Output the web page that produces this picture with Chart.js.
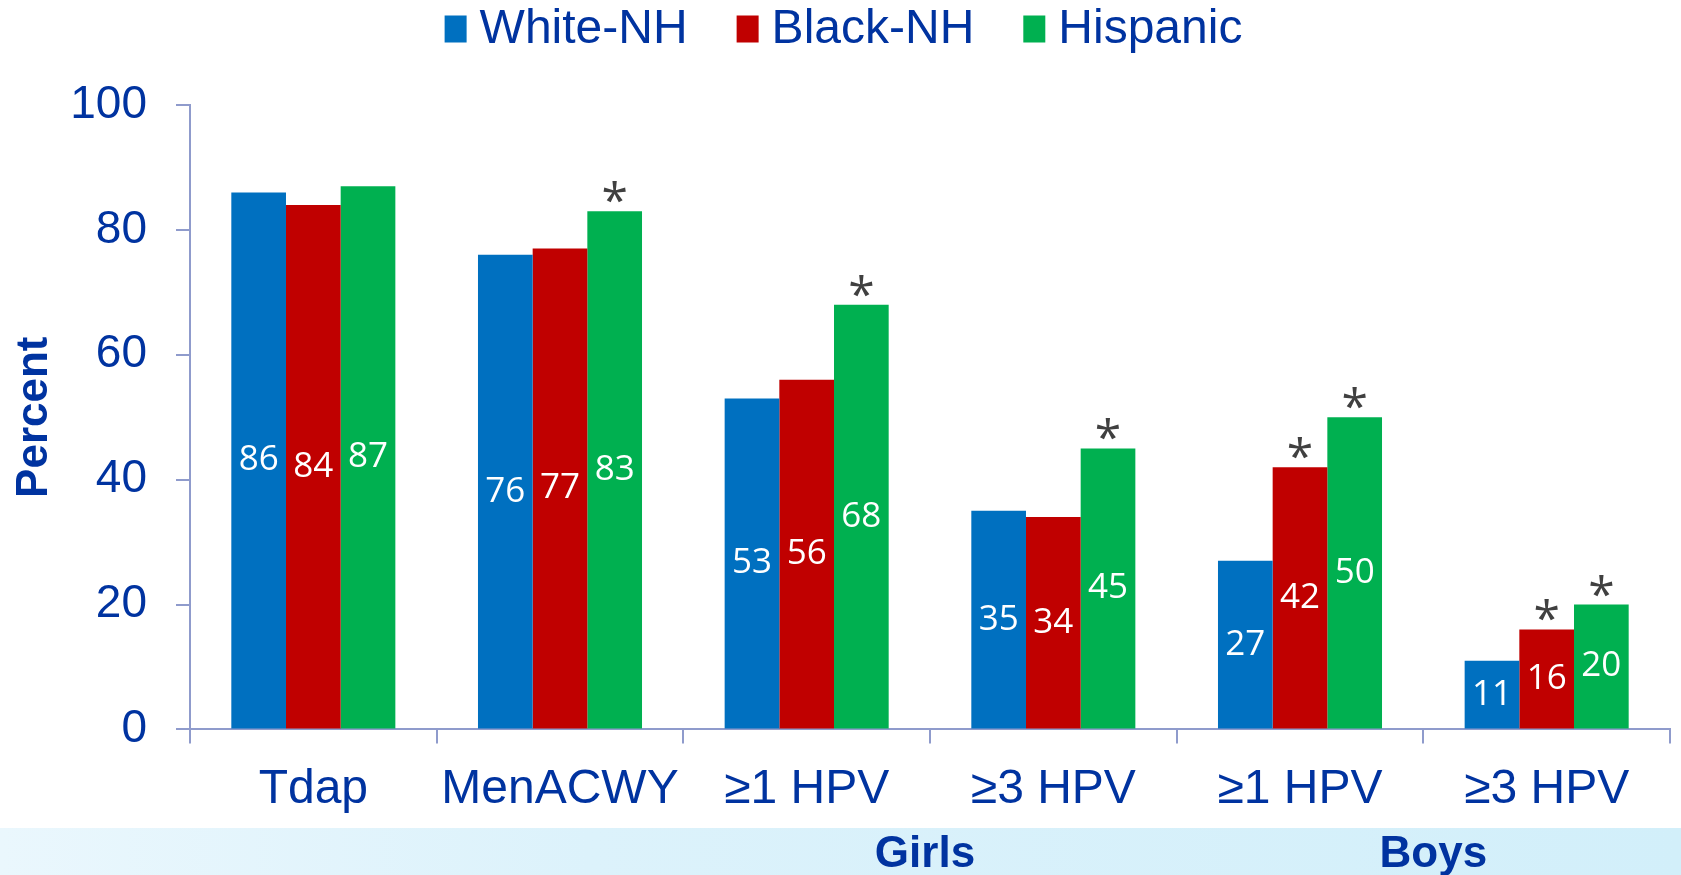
<!DOCTYPE html>
<html>
<head>
<meta charset="utf-8">
<script src="https://cdn.jsdelivr.net/npm/chart.js@4"></script>
<style>
    html, body { margin: 0; padding: 0; background: #fff; }
    #wrap { width: 1681px; height: 875px; position: relative; }
</style>
</head>
<body>
<div id="wrap"><canvas id="vaxChart"></canvas></div>
<script>
// ====== Data ======
const CATEGORIES = ["Tdap", "MenACWY", "\u22651 HPV", "\u22653 HPV", "\u22651 HPV", "\u22653 HPV"];
const WHITE_NH = [86, 76, 53, 35, 27, 11];
const BLACK_NH = [84, 77, 56, 34, 42, 16];
const HISPANIC = [87, 83, 68, 45, 50, 20];
// significance markers (asterisk above bar)
const WHITE_SIG = [0, 0, 0, 0, 0, 0];
const BLACK_SIG = [0, 0, 0, 0, 1, 1];
const HISP_SIG = [0, 1, 1, 1, 1, 1];
const Y_TICKS = [0, 20, 40, 60, 80, 100];
// group label, centered on category index
const GROUP_LABELS = ["Girls", "Boys"];
const GROUP_CENTERS = [2.5, 4.5];

const NAVY = '#0033A0';
const AXIS_COLOR = '#8F9BCC';
const FONT = '"Liberation Sans", Arial, sans-serif';
const LABEL_FONT = '"Open Sans", "Noto Sans", sans-serif';

// ---- custom legend (tighter box/text spacing than Chart.js) ----
const legendPlugin = {
    id: 'topLegend',
    afterDraw(chart) {
        const ctx = chart.ctx;
        const boxW = 22, boxH = 27, gapText = 13, gapItem = 49, cy = 29;
        ctx.save();
        ctx.font = '48px ' + FONT;
        const items = chart.data.datasets.map(ds => ({text: ds.label, color: ds.backgroundColor, w: ctx.measureText(ds.label).width}));
        let total = items.reduce((s, it) => s + boxW + gapText + it.w, 0) + gapItem * (items.length - 1);
        let x = chart.width / 2 - total / 2 + 3;
        ctx.textBaseline = 'middle';
        items.forEach(it => {
            ctx.fillStyle = it.color;
            ctx.fillRect(x, cy - boxH / 2, boxW, boxH);
            x += boxW + gapText;
            ctx.fillStyle = NAVY;
            ctx.fillText(it.text, x, cy + 1);
            x += it.w + gapItem;
        });
        ctx.restore();
    }
};

// ---- bottom band + group labels ----
const bandPlugin = {
    id: 'band',
    beforeDraw(chart) {
        const ctx = chart.ctx;
        const top = chart.height - 47;
        const g = ctx.createLinearGradient(0, 0, chart.width, 0);
        g.addColorStop(0, '#eaf7fd');
        g.addColorStop(0.35, '#dcf2fb');
        g.addColorStop(1, '#d2effa');
        ctx.save();
        ctx.fillStyle = g;
        ctx.fillRect(0, top, chart.width, chart.height - top);
        ctx.restore();
    },
    afterDraw(chart) {
        const ctx = chart.ctx;
        const x = chart.scales.x;
        const nudge = [-5, 10];
        ctx.save();
        ctx.font = 'bold 44px ' + FONT;
        ctx.fillStyle = NAVY;
        ctx.textAlign = 'center';
        ctx.textBaseline = 'middle';
        GROUP_LABELS.forEach((t, i) => ctx.fillText(t, x.getPixelForValue(GROUP_CENTERS[i]) + nudge[i], chart.height - 20));
        ctx.restore();
    }
};

// ---- value labels inside bars + asterisks ----
const labelPlugin = {
    id: 'barLabels',
    afterDatasetsDraw(chart) {
        const ctx = chart.ctx;
        const sigs = [WHITE_SIG, BLACK_SIG, HISP_SIG];
        ctx.save();
        ctx.textAlign = 'center';
        chart.data.datasets.forEach((ds, di) => {
            const meta = chart.getDatasetMeta(di);
            meta.data.forEach((bar, i) => {
                ctx.font = '35px ' + LABEL_FONT;
                ctx.fillStyle = '#fff';
                ctx.textBaseline = 'middle';
                ctx.fillText(ds.data[i], bar.x, (bar.y + bar.base) / 2);
                if (sigs[di][i]) {
                    ctx.font = '48px ' + LABEL_FONT;
                    ctx.fillStyle = '#404040';
                    ctx.textBaseline = 'alphabetic';
                    ctx.fillText('*', bar.x, bar.y + 6);
                }
            });
        });
        ctx.restore();
    }
};

const canvas = document.getElementById('vaxChart');
new Chart(canvas, {
    type: 'bar',
    data: {
        labels: CATEGORIES,
        datasets: [
            {label: 'White-NH', data: WHITE_NH, backgroundColor: '#0070C0'},
            {label: 'Black-NH', data: BLACK_NH, backgroundColor: '#C00000'},
            {label: 'Hispanic', data: HISPANIC, backgroundColor: '#00B050'}
        ]
    },
    options: {
        responsive: true,
        maintainAspectRatio: false,
        animation: false,
        layout: {padding: {left: 4, right: 11, top: 105, bottom: 38}},
        datasets: {bar: {categoryPercentage: 0.665, barPercentage: 1.0}},
        plugins: {
            legend: {display: false},
            tooltip: {enabled: false}
        },
        scales: {
            x: {
                grid: {drawOnChartArea: false, drawTicks: true, tickLength: 14, color: AXIS_COLOR, lineWidth: 2},
                border: {color: AXIS_COLOR, width: 2},
                ticks: {color: NAVY, font: {size: 48, family: FONT}, padding: 18, maxRotation: 0}
            },
            y: {
                min: 0,
                max: 100,
                afterBuildTicks: s => { s.ticks = Y_TICKS.map(v => ({value: v})); },
                afterFit: s => { s.width = 186; },
                grid: {drawOnChartArea: false, drawTicks: true, tickLength: 14, color: AXIS_COLOR, lineWidth: 2},
                border: {color: AXIS_COLOR, width: 2},
                ticks: {color: NAVY, font: {size: 46, family: FONT}, padding: 29},
                title: {
                    display: true,
                    text: 'Percent',
                    color: NAVY,
                    font: {size: 44, weight: 'bold', family: FONT},
                    padding: 4
                }
            }
        }
    },
    plugins: [bandPlugin, labelPlugin, legendPlugin]
});
</script>
</body>
</html>
